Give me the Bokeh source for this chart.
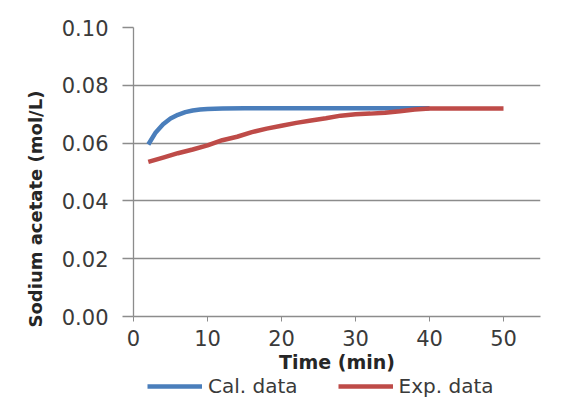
from bokeh.plotting import figure
from bokeh.layouts import column
from bokeh.models import (Range1d, FixedTicker, NumeralTickFormatter, Legend, LegendItem,
                          Title)
from bokeh.embed import file_html
from bokeh.resources import INLINE

# ---- data ----
cal_time = [2, 3, 4, 5, 6, 7, 8, 9, 10, 12, 15, 20, 25, 30, 35, 40]
cal_conc = [0.0595, 0.0637, 0.0665, 0.0685, 0.0698, 0.0707, 0.0713, 0.0716, 0.0718,
            0.0720, 0.0721, 0.0721, 0.0721, 0.0721, 0.0721, 0.0721]

exp_time = [2, 4, 6, 8, 10, 12, 14, 16, 18, 20, 22, 24, 26, 28, 30, 32, 34, 36, 38, 40,
            42, 44, 46, 48, 50]
exp_conc = [0.0535, 0.0550, 0.0565, 0.0578, 0.0592, 0.0610, 0.0622, 0.0638, 0.0650,
            0.0660, 0.0670, 0.0678, 0.0686, 0.0695, 0.0700, 0.0702, 0.0705, 0.0710,
            0.0716, 0.0720, 0.0720, 0.0720, 0.0720, 0.0720, 0.0720]

x_ticks = [0, 10, 20, 30, 40, 50]
y_ticks = [0.0, 0.02, 0.04, 0.06, 0.08, 0.10]

series_names = ["Cal. data", "Exp. data"]
x_title = "Time (min)"
y_title = "Sodium acetate (mol/L)"

BLUE = "#4A7EBB"
RED = "#BE4B48"
GRID = "#8C8C8C"
TEXT = "#3A3A3A"
FONT = "DejaVu Sans"

MAIN_H = 373
LEG_H = 399 - MAIN_H

p = figure(width=564, height=MAIN_H, output_backend="svg", toolbar_location=None,
           x_range=Range1d(0, 55), y_range=Range1d(0, 0.10),
           min_border_left=133, min_border_right=24, min_border_top=27,
           min_border_bottom=MAIN_H - 316)
p.outline_line_color = None
p.background_fill_color = "white"
p.border_fill_color = "white"

p.xgrid.visible = False
p.ygrid.ticker = FixedTicker(ticks=y_ticks)
p.ygrid.grid_line_color = GRID
p.ygrid.grid_line_width = 1.3

xa = p.xaxis[0]
xa.ticker = FixedTicker(ticks=x_ticks)
xa.axis_line_color = GRID
xa.axis_line_width = 1.3
xa.major_tick_line_color = GRID
xa.major_tick_out = 5
xa.major_tick_in = 0
xa.minor_tick_line_color = None
xa.major_label_standoff = 8
xa.major_label_text_font = FONT
xa.major_label_text_font_size = "21px"
xa.major_label_text_color = TEXT

ya = p.yaxis[0]
ya.ticker = FixedTicker(ticks=y_ticks)
ya.formatter = NumeralTickFormatter(format="0.00")
ya.axis_line_color = GRID
ya.axis_line_width = 1.3
ya.major_tick_line_color = GRID
ya.major_tick_line_width = 1.3
ya.major_tick_out = 11
ya.major_tick_in = 0
ya.minor_tick_line_color = None
ya.major_label_standoff = 14
ya.major_label_text_font = FONT
ya.major_label_text_font_size = "21px"
ya.major_label_text_color = TEXT

p.line(cal_time, cal_conc, line_color=BLUE, line_width=4.5)
p.line(exp_time, exp_conc, line_color=RED, line_width=4.5)

p.add_layout(Title(text=x_title, align="center", standoff=0,
                   text_font=FONT, text_font_style="bold", text_font_size="19px",
                   text_color="#262626"), "below")
p.add_layout(Title(text=y_title, align="left", offset=-11, standoff=26,
                   text_font=FONT, text_font_style="bold", text_font_size="18px",
                   text_color="#262626"), "left")

# legend strip below the chart (its frame is aligned with the chart's frame);
# the series are drawn off-view there only to supply the legend glyphs
leg = figure(width=564, height=LEG_H, output_backend="svg", toolbar_location=None,
             x_range=Range1d(100, 101), y_range=Range1d(100, 101),
             x_axis_type=None, y_axis_type=None, min_border=0)
leg.outline_line_color = None
leg.xgrid.visible = False
leg.ygrid.visible = False
leg.border_fill_color = "white"
l_cal = leg.line(cal_time, cal_conc, line_color=BLUE, line_width=4.5)
l_exp = leg.line(exp_time, exp_conc, line_color=RED, line_width=4.5)
legend = Legend(items=[LegendItem(label=series_names[0], renderers=[l_cal]),
                       LegendItem(label=series_names[1], renderers=[l_exp])],
                orientation="horizontal", location=(14, 1),
                glyph_width=55, glyph_height=20, label_standoff=6, spacing=40,
                padding=0, margin=0, border_line_color=None,
                background_fill_alpha=0,
                label_text_font=FONT, label_text_font_size="20px",
                label_text_color=TEXT)
leg.add_layout(legend, "center")

layout = column(p, leg, spacing=0)
open("out.html", "w").write(file_html(layout, INLINE))
